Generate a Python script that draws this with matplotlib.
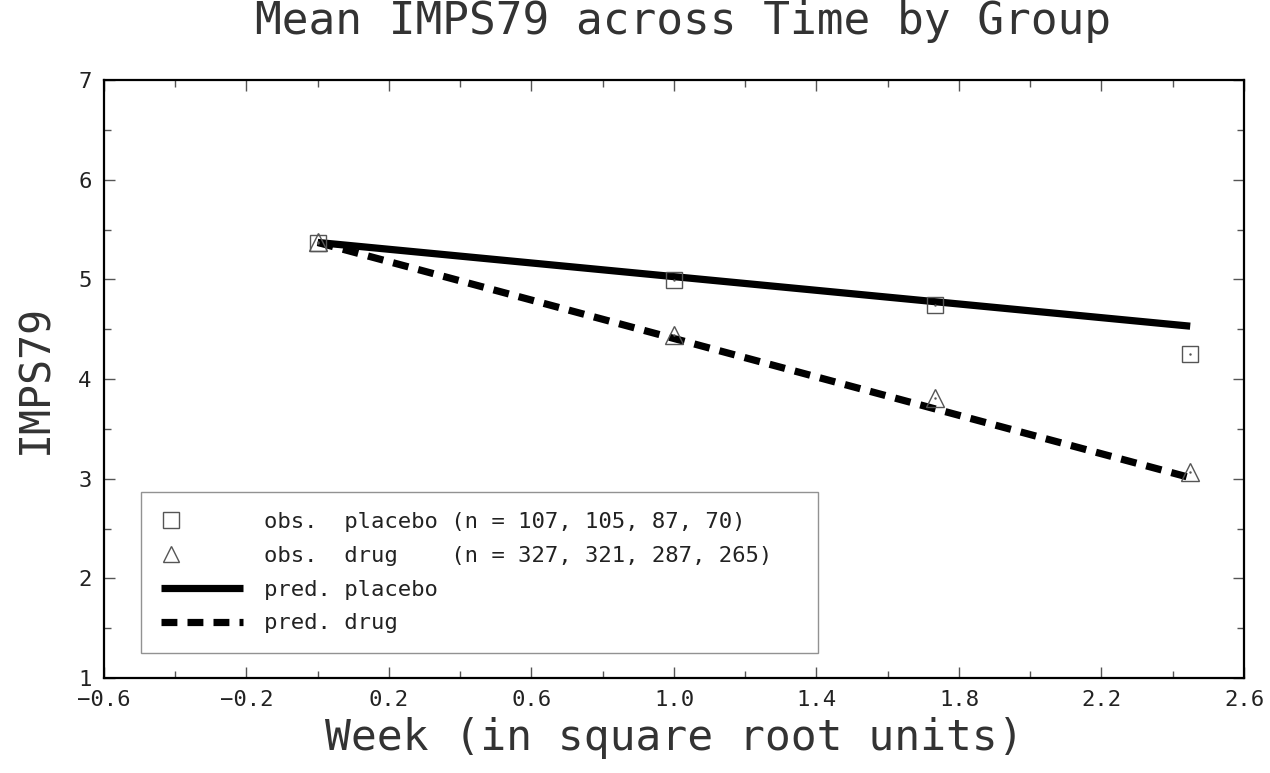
import matplotlib
matplotlib.use('Agg')
import matplotlib.pyplot as plt
from matplotlib.lines import Line2D
from matplotlib.legend_handler import HandlerLine2D
from matplotlib.ticker import MultipleLocator, FixedLocator

# Data
weeks_sqrt = [0.0, 1.0, 1.732, 2.449]
obs_placebo = [5.36, 4.99, 4.74, 4.25]
obs_drug = [5.37, 4.44, 3.81, 3.07]
pred_placebo = [5.37, 4.53]
pred_drug = [5.37, 3.01]
pred_x = [0.0, 2.449]

n_placebo = [107, 105, 87, 70]
n_drug = [327, 321, 287, 265]

plt.rcParams['font.family'] = 'DejaVu Sans Mono'

fig = plt.figure(figsize=(12.7, 7.73), dpi=100)
ax = fig.add_axes([104 / 1270, 95 / 773, 1140 / 1270, 598 / 773])

dash = (0, (2.2, 1.4))

# predicted lines
ax.plot(pred_x, pred_placebo, color='black', lw=5.2, solid_capstyle='butt', zorder=3)
ax.plot(pred_x, pred_drug, color='black', lw=5.2, linestyle=dash,
        dash_capstyle='butt', zorder=3)

# observed means
ax.plot(weeks_sqrt, obs_placebo, linestyle='none', marker='s', ms=11.5,
        mfc='none', mec='#555555', mew=1.0, zorder=4)
ax.plot(weeks_sqrt, obs_drug, linestyle='none', marker='^', ms=13,
        mfc='none', mec='#555555', mew=1.0, zorder=4)
ax.plot(weeks_sqrt, obs_placebo, linestyle='none', marker='.', ms=1.5, color='#555555', zorder=4)
ax.plot(weeks_sqrt, obs_drug, linestyle='none', marker='.', ms=1.5, color='#555555', zorder=4)

ax.set_xlim(-0.6, 2.6)
ax.set_ylim(1, 7)
ax.xaxis.set_major_locator(FixedLocator([-0.6, -0.2, 0.2, 0.6, 1.0, 1.4, 1.8, 2.2, 2.6]))
ax.xaxis.set_minor_locator(FixedLocator([-0.4, 0.0, 0.4, 0.8, 1.2, 1.6, 2.0, 2.4]))
ax.yaxis.set_major_locator(MultipleLocator(1))
ax.yaxis.set_minor_locator(MultipleLocator(0.5))
ax.set_xticklabels(['\u22120.6', '\u22120.2', '0.2', '0.6', '1.0', '1.4', '1.8', '2.2', '2.6'])

ax.tick_params(which='both', direction='in', top=True, right=True, width=1.0, color='#555555',
               labelcolor='#222222')
ax.tick_params(which='major', length=8, labelsize=16, pad=9)
ax.tick_params(which='minor', length=5)
for s in ax.spines.values():
    s.set_linewidth(1.6)

ax.set_xlabel('Week (in square root units)', fontsize=31, labelpad=5, color='#333333')
ax.set_ylabel('IMPS79', fontsize=30, labelpad=16, color='#333333')
fig.suptitle('Mean IMPS79 across Time by Group', fontsize=32, y=1.0, x=0.538, color='#333333')

handles = [
    Line2D([], [], linestyle='none', marker='s', ms=11, mfc='none', mec='#555555', mew=1.0),
    Line2D([], [], linestyle='none', marker='^', ms=12, mfc='none', mec='#555555', mew=1.0),
    Line2D([], [], color='black', lw=5.2, solid_capstyle='butt'),
    Line2D([], [], color='black', lw=5.2, linestyle=dash, dash_capstyle='butt'),
]
labels = [
    'obs.  placebo (n = ' + ', '.join(str(v) for v in n_placebo) + ')',
    'obs.  drug    (n = ' + ', '.join(str(v) for v in n_drug) + ')',
    'pred. placebo',
    'pred. drug',
]
left_marker = HandlerLine2D(numpoints=1, xpad=-2.8)
leg = ax.legend(handles, labels, loc='upper left', bbox_to_anchor=(0.0325, 0.045, 0.594, 0.266),
                mode='expand', fontsize=16, frameon=True, fancybox=False, handlelength=3.7,
                handletextpad=0.95, labelspacing=0.62, borderpad=0.9, borderaxespad=0,
                handler_map={handles[0]: left_marker, handles[1]: left_marker})
leg.get_frame().set_edgecolor('#777777')
leg.get_frame().set_linewidth(1.0)
for t in leg.get_texts():
    t.set_color('#222222')

fig.savefig('out.png', dpi=100)
